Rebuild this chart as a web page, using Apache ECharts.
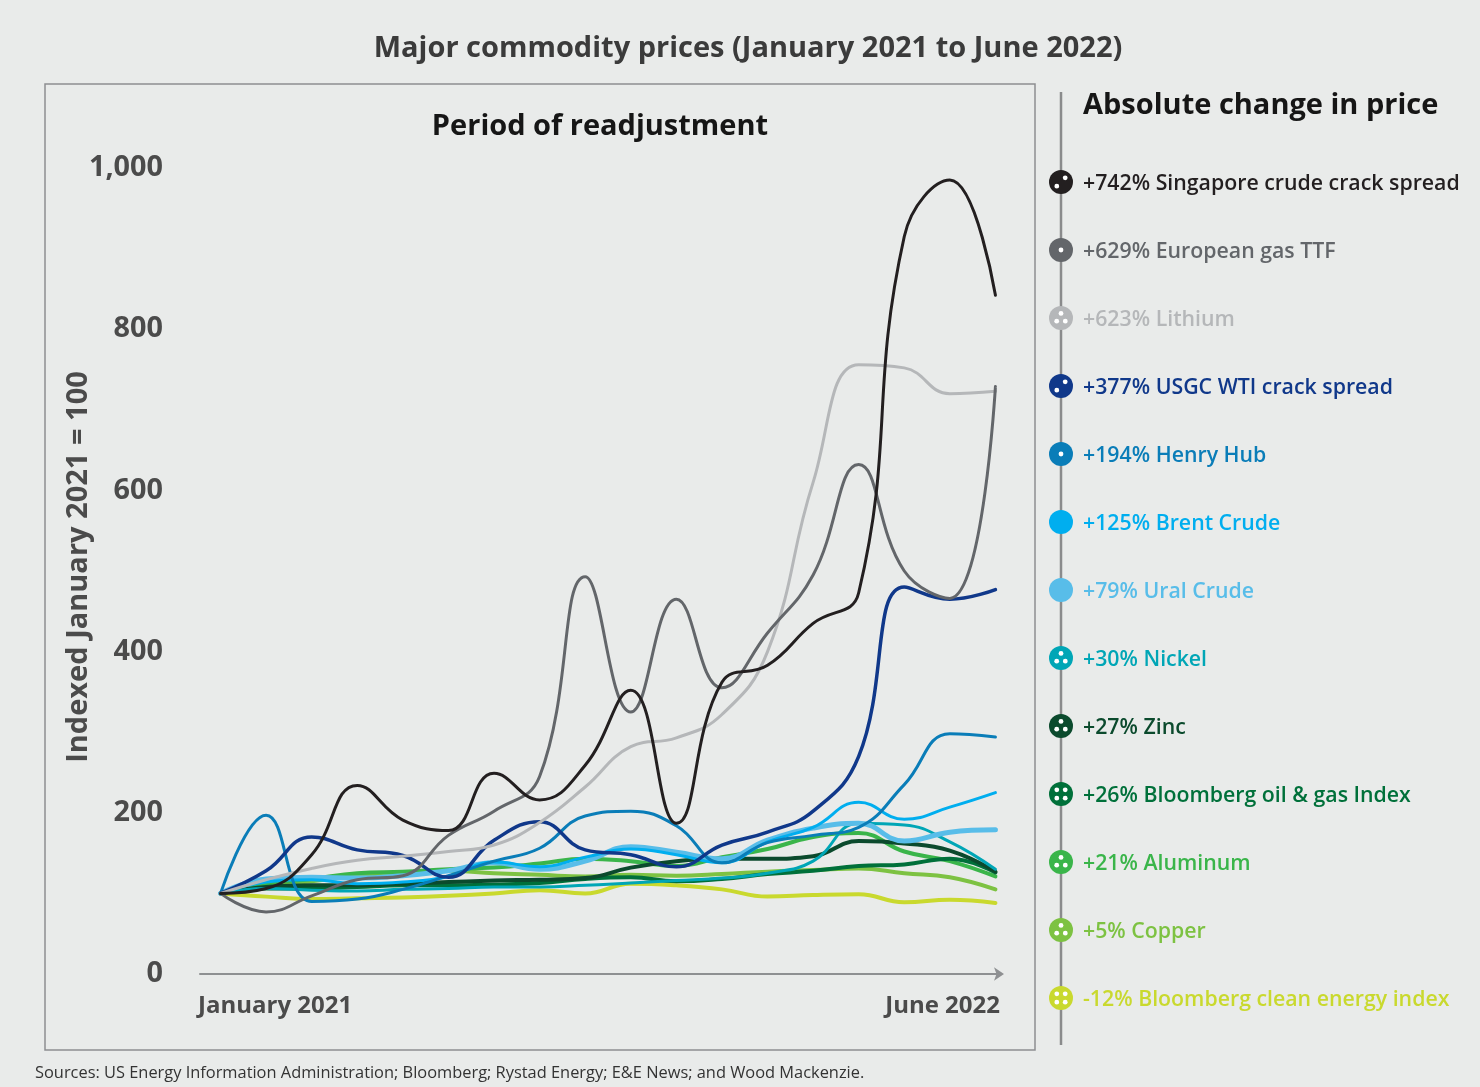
<!DOCTYPE html>
<html>
<head>
<meta charset="utf-8">
<script src="https://cdn.jsdelivr.net/npm/echarts@6/dist/echarts.min.js"></script>
<style>
  html, body { margin: 0; padding: 0; background: #ffffff; }
  #chart { width: 1480px; height: 1087px; }
</style>
</head>
<body>
<div id="chart"></div>
<script>
// ---- DATA (indexed, Jan 2021 = 100), monthly Jan 2021 .. Jun 2022 ----
const months = ['Jan 2021','Feb 2021','Mar 2021','Apr 2021','May 2021','Jun 2021','Jul 2021','Aug 2021','Sep 2021','Oct 2021','Nov 2021','Dec 2021','Jan 2022','Feb 2022','Mar 2022','Apr 2022','May 2022','Jun 2022'];
const xTickLabels = ['January 2021', 'June 2022'];
const yTicks = [0, 200, 400, 600, 800, 1000];

const singapore = [100, 106, 148, 234, 191, 178, 249, 216, 259, 352, 187, 362, 383, 435, 473, 915, 985, 842];
const ttf       = [100, 77, 97, 117, 122, 172, 202, 245, 493, 325, 465, 355, 423, 495, 632, 500, 466, 729];
const lithium   = [100, 117, 131, 141, 146, 152, 160, 188, 232, 282, 293, 322, 400, 610, 756, 752, 720, 723];
const usgc      = [100, 128, 170, 154, 147, 120, 166, 189, 154, 148, 133, 160, 176, 202, 270, 480, 465, 477];
const henryHub  = [100, 197, 90, 93, 105, 122, 140, 156, 196, 202, 184, 138, 163, 172, 182, 235, 298, 294];
const brent     = [100, 114, 117, 112, 114, 121, 139, 133, 145, 155, 148, 138, 164, 182, 213, 192, 207, 225];
const ural      = [100, 118, 120, 119, 122, 128, 138, 130, 140, 158, 151, 143, 166, 181, 187, 165, 176, 179];
const nickel    = [100, 106, 104, 103, 105, 106, 108, 108, 110, 113, 116, 119, 125, 140, 187, 185, 164, 130];
const zinc      = [100, 108, 110, 110, 112, 114, 116, 117, 119, 132, 140, 143, 143, 146, 165, 162, 153, 127];
const oilGas    = [100, 106, 106, 108, 110, 110, 111, 113, 118, 120, 115, 118, 124, 128, 134, 136, 143, 126];
const aluminum  = [100, 112, 118, 125, 127, 130, 132, 137, 143, 140, 134, 145, 155, 170, 175, 152, 140, 121];
const copper    = [100, 110, 115, 122, 126, 128, 125, 123, 121, 123, 122, 124, 127, 129, 131, 125, 120, 105];
const cleanEnergy = [100, 96, 93, 94, 95, 97, 100, 104, 100, 112, 110, 105, 96, 98, 99, 89, 92, 88];

const seriesNames = ['Singapore crude crack spread','European gas TTF','Lithium','USGC WTI crack spread','Henry Hub','Brent Crude','Ural Crude','Nickel','Zinc','Bloomberg oil & gas Index','Aluminum','Copper','Bloomberg clean energy index'];
const changeLabels = ['+742%','+629%','+623%','+377%','+194%','+125%','+79%','+30%','+27%','+26%','+21%','+5%','-12%'];
const seriesData = [singapore, ttf, lithium, usgc, henryHub, brent, ural, nickel, zinc, oilGas, aluminum, copper, cleanEnergy];

// ---- STYLE ----
const colors = ['#231f20','#63666a','#b5b7b9','#10388a','#0a7db8','#00aeef','#58bde9','#00a6b6','#0b4a2d','#00703a','#3ab54a','#7dc242','#c9d92e'];
const widths = [3, 3, 3, 3.5, 3, 3, 5, 3, 4, 4, 4, 4, 4];
const dotCounts = [2, 1, 3, 2, 1, 0, 0, 3, 3, 4, 3, 3, 4];
const drawOrder = [12, 11, 10, 9, 8, 7, 6, 5, 4, 3, 2, 1, 0];

const chart = echarts.init(document.getElementById('chart'), null, { renderer: 'canvas' });
const FONT = '"Open Sans", "Noto Sans", sans-serif';

const series = drawOrder.map(i => ({
  name: seriesNames[i],
  type: 'line',
  data: seriesData[i].map((v, k) => [k, v]),
  smooth: 0.45,
  symbol: 'none',
  lineStyle: { color: colors[i], width: widths[i], cap: 'round', join: 'round' },
  itemStyle: { color: colors[i] },
  z: 2 + (12 - i)
}));

function dots(n) {
  const d = 4.2;
  if (n === 1) return [[0, 0]];
  if (n === 2) return [[d, -d], [-d, d]];
  if (n === 3) return [[0, -4.6], [-4.3, 3.2], [4.3, 3.2]];
  if (n === 4) return [[-d, -d], [d, -d], [-d, d], [d, d]];
  return [];
}

const graphics = [];
graphics.push({ type: 'rect', z: -10, shape: { x: 0, y: 0, width: 1480, height: 1087 }, style: { fill: '#e9ebea' }, silent: true });
graphics.push({ type: 'rect', z: 1, shape: { x: 45, y: 84, width: 990, height: 966 }, style: { fill: 'none', stroke: '#8d8f91', lineWidth: 1.5 }, silent: true });
graphics.push({ type: 'text', x: 748, y: 49, style: { text: 'Major commodity prices (January 2021 to June 2022)', font: 'bold 29px ' + FONT, fill: '#3b3b3b', textAlign: 'center', textVerticalAlign: 'middle' } });
graphics.push({ type: 'text', x: 600, y: 127, style: { text: 'Period of readjustment', font: 'bold 29px ' + FONT, fill: '#161616', textAlign: 'center', textVerticalAlign: 'middle' } });
graphics.push({ type: 'text', x: 1083, y: 106, style: { text: 'Absolute change in price', font: 'bold 29px ' + FONT, fill: '#161616', textAlign: 'left', textVerticalAlign: 'middle' } });
graphics.push({ type: 'text', x: 79, y: 567, rotation: Math.PI / 2, style: { text: 'Indexed January 2021 = 100', font: 'bold 29px ' + FONT, fill: '#4b4b4b', textAlign: 'center', textVerticalAlign: 'middle' } });
graphics.push({ type: 'text', x: 198, y: 1006, style: { text: xTickLabels[0], font: 'bold 24px ' + FONT, fill: '#4b4b4b', textAlign: 'left', textVerticalAlign: 'middle' } });
graphics.push({ type: 'text', x: 1000, y: 1006, style: { text: xTickLabels[1], font: 'bold 24px ' + FONT, fill: '#4b4b4b', textAlign: 'right', textVerticalAlign: 'middle' } });
graphics.push({ type: 'text', x: 35, y: 1073, style: { text: 'Sources: US Energy Information Administration; Bloomberg; Rystad Energy; E&E News; and Wood Mackenzie.', font: '16.4px ' + FONT, fill: '#333333', textAlign: 'left', textVerticalAlign: 'middle' } });
graphics.push({ type: 'line', shape: { x1: 1061, y1: 92, x2: 1061, y2: 1045 }, style: { stroke: '#8a8b8c', lineWidth: 2.5 }, silent: true });
seriesNames.forEach((name, i) => {
  const cy = 182 + 68 * i;
  graphics.push({ type: 'circle', shape: { cx: 1061, cy: cy, r: 12 }, style: { fill: colors[i] }, z: 5 });
  dots(dotCounts[i]).forEach(p => {
    graphics.push({ type: 'circle', shape: { cx: 1061 + p[0], cy: cy + p[1], r: 2.4 }, style: { fill: '#ffffff' }, z: 6 });
  });
  graphics.push({ type: 'text', x: 1083, y: cy + 2, z: 5, style: { text: changeLabels[i] + ' ' + name, font: '600 21.3px ' + FONT, fill: colors[i], textAlign: 'left', textVerticalAlign: 'middle' } });
});

chart.setOption({
  animation: false,
  backgroundColor: '#ffffff',
  grid: { left: 200, right: 480, top: 168, bottom: 113, containLabel: false },
  xAxis: {
    type: 'value', min: -0.45, max: 17.1,
    axisLine: { show: true, symbol: ['none', 'arrow'], symbolSize: [10, 10], symbolOffset: [0, 4], lineStyle: { color: '#8e9092', width: 2 } },
    axisTick: { show: false }, axisLabel: { show: false }, splitLine: { show: false }
  },
  yAxis: {
    type: 'value', min: 0, max: 1000, interval: 200,
    axisLine: { show: false }, axisTick: { show: false }, splitLine: { show: false },
    axisLabel: {
      margin: 37, color: '#4b4b4b', fontFamily: FONT, fontWeight: 'bold', fontSize: 28.8,
      padding: [4, 0, 0, 0],
      formatter: v => yTicks.includes(v) ? v.toLocaleString('en-US') : ''
    }
  },
  graphic: graphics,
  series: series
});
</script>
</body>
</html>
